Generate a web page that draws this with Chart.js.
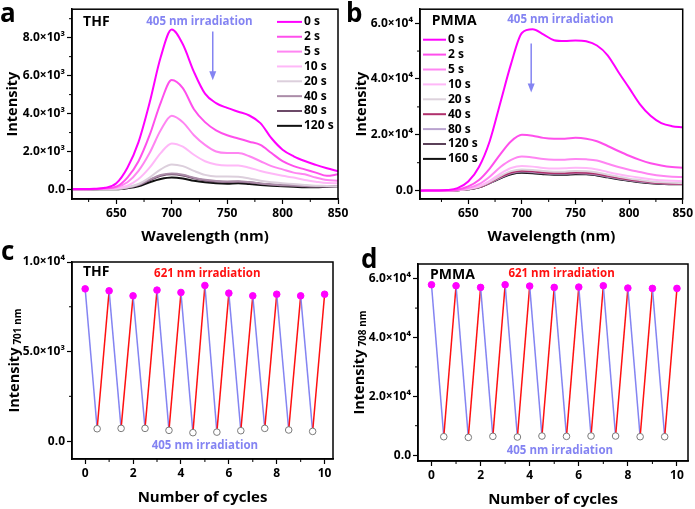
<!DOCTYPE html>
<html>
<head>
<meta charset="utf-8">
<script src="https://cdn.jsdelivr.net/npm/chart.js@4.4.1/dist/chart.umd.min.js"></script>
<style>
  body { margin: 0; width: 695px; height: 509px; background: #fff; position: relative; overflow: hidden; }
  .box { position: absolute; }
  .tag { position: absolute; font: bold 26px 'Open Sans', sans-serif; line-height: 26px; color: #000; }
</style>
</head>
<body>
<div class="box" style="left:0;top:0;width:360px;height:250px"><canvas id="chartA"></canvas></div>
<div class="box" style="left:345px;top:0;width:350px;height:250px"><canvas id="chartB"></canvas></div>
<div class="box" style="left:0;top:250px;width:360px;height:259px"><canvas id="chartC"></canvas></div>
<div class="box" style="left:345px;top:250px;width:350px;height:259px"><canvas id="chartD"></canvas></div>
<div class="tag" style="left:0;top:-1px">a</div>
<div class="tag" style="left:346px;top:-1px">b</div>
<div class="tag" style="left:1px;top:237px">c</div>
<div class="tag" style="left:361px;top:245px">d</div>
<script>
// ---- data ----
const waveA = [610,620,630,640,650,660,670,680,690,700,710,720,730,740,750,760,770,780,790,800,810,820,830,840,850];
const timesA = ['0 s','2 s','5 s','10 s','20 s','40 s','80 s','120 s'];
const a0s   = [30,30,40,90,330,1150,2500,4570,6970,8430,7650,6200,5050,4550,4300,4100,3900,3500,2700,2100,1750,1500,1300,1120,960];
const a2s   = [20,20,30,60,150,630,1490,2860,4570,5770,5340,4230,3550,3120,2860,2690,2520,2350,1920,1490,1230,1060,890,720,800];
const a5s   = [20,20,30,50,120,380,980,1920,3120,3890,3550,2860,2350,2000,1920,1920,1750,1490,1230,1060,890,800,630,500,460];
const a10s  = [20,20,25,40,70,200,550,1150,1920,2430,2260,1830,1490,1320,1270,1270,1150,980,840,720,630,500,410,340,330];
const a20s  = [20,20,20,30,35,120,290,630,1060,1320,1230,980,770,690,690,670,580,460,380,330,290,240,200,190,170];
const a40s  = [20,20,20,25,30,100,250,520,760,840,780,620,510,450,420,430,390,320,270,230,210,180,170,170,180];
const a80s  = [20,20,20,25,25,90,230,490,720,800,740,590,480,420,400,410,370,310,260,220,200,170,160,165,175];
const a120s = [20,20,20,20,20,70,170,380,550,630,580,460,380,330,310,330,290,240,200,170,150,120,120,150,170];

const waveB = [605,620,630,640,650,660,670,680,690,700,710,720,730,740,750,760,770,780,790,800,810,820,830,840,850];
const timesB = ['0 s','2 s','5 s','10 s','20 s','40 s','80 s','120 s','160 s'];
const b0s   = [0,50,200,900,3240,8450,17700,31600,45500,56500,57800,56000,53900,53600,53800,53500,52000,48500,42500,36800,31000,26800,24200,23100,22700];
const b2s   = [0,20,80,350,1500,3800,7900,13100,17700,20000,19700,18900,18600,18600,18900,18600,17700,16000,14200,12500,11000,9800,9000,8450,8200];
const b5s   = [0,10,50,250,900,2300,5000,8450,11000,12200,11900,11300,11100,11100,11300,11200,10800,9600,8450,7500,6700,5900,5300,5000,4900];
const b10s  = [0,10,40,200,700,1600,3500,6100,8100,8800,8600,8100,7900,8000,8200,8100,7600,6700,5900,5200,4600,4100,3700,3500,3400];
const b20s  = [0,10,30,170,600,1400,3100,5300,7000,7600,7400,7000,6800,6800,7000,6900,6500,5700,5000,4300,3800,3300,3000,2800,2700];
const b40s  = [0,10,30,160,560,1300,2900,4900,6500,7100,6900,6500,6300,6300,6500,6400,6000,5300,4600,4000,3500,3000,2700,2500,2500];
const b80s  = [0,10,30,150,520,1250,2800,4700,6300,6900,6700,6300,6100,6100,6300,6200,5800,5100,4400,3800,3300,2900,2600,2400,2400];
const b120s = [0,10,30,140,490,1200,2750,4550,6100,6650,6500,6100,5900,5900,6100,6000,5600,4900,4200,3650,3150,2750,2500,2350,2350];
const b160s = [0,10,30,130,460,1160,2700,4400,5900,6400,6250,5900,5700,5700,5900,5900,5450,4750,4050,3500,3000,2650,2450,2300,2300];

const cycleIdx = [0,1,2,3,4,5,6,7,8,9,10];
const peaksC   = [8500,8390,8110,8430,8300,8690,8260,8110,8200,8110,8200];
const valleysC = [690,710,710,600,470,500,580,710,620,540];
const peaksD   = [57950,57600,57040,57950,57490,57040,57150,57600,56810,56700,56700];
const valleysD = [6260,6030,6380,6150,6490,6380,6490,6490,6260,6260];

const xTicksSpec = [650,700,750,800,850];
const xMinorSpec = [625,675,725,775,825];
const xTicksCyc = [0,2,4,6,8,10];
const xMinorCyc = [1,3,5,7,9];
const yTicksA = [0,2000,4000,6000,8000];
const yLabelsA = ['0.0','2.0×10³','4.0×10³','6.0×10³','8.0×10³'];
const yTicksB = [0,20000,40000,60000];
const yLabelsB = ['0.0','2.0×10⁴','4.0×10⁴','6.0×10⁴'];
const yTicksC = [0,5000,10000];
const yLabelsC = ['0.0','5.0×10³','1.0×10⁴'];

const colorsA = ['#ff00ff','#ff4fec','#ff85f2','#ffb8f8','#dccfdc','#ab8ca8','#6c4a68','#111111'];
const colorsB = ['#ff00ff','#ff4fec','#ff85f2','#ffb8f8','#ddd2dc','#b0306c','#b9a3cf','#5a4058','#111111'];

// ---- styling ----
const FONT = "'Open Sans', sans-serif";
const LILAC = '#8484f2';
const RED = '#ff1010';
const MAGENTA = '#ff00ff';

function decor(cfg) {
  return {
    id: 'decor',
    afterDraw(chart) {
      const { ctx, chartArea: a, scales: { x, y } } = chart;
      ctx.save();
      ctx.strokeStyle = '#000';
      ctx.lineWidth = 1.5;
      ctx.strokeRect(a.left, a.top, a.right - a.left, a.bottom - a.top);
      ctx.lineWidth = 1;
      cfg.minorX.forEach(v => {
        const px = x.getPixelForValue(v);
        ctx.beginPath(); ctx.moveTo(px, a.bottom); ctx.lineTo(px, a.bottom + 3); ctx.stroke();
      });
      cfg.minorY.forEach(v => {
        const py = y.getPixelForValue(v);
        ctx.beginPath(); ctx.moveTo(a.left, py); ctx.lineTo(a.left - 3, py); ctx.stroke();
      });

      ctx.fillStyle = '#000';
      ctx.textBaseline = 'middle';
      ctx.textAlign = 'center';
      ctx.font = `bold 15px ${FONT}`;
      ctx.fillText(cfg.xTitle, (a.left + a.right) / 2, a.bottom + cfg.xTitleGap);

      ctx.save();
      ctx.translate(cfg.yTitleX, (a.top + a.bottom) / 2);
      ctx.rotate(-Math.PI / 2);
      ctx.font = `bold 14.5px ${FONT}`;
      const w1 = ctx.measureText('Intensity').width;
      ctx.font = `bold 10px ${FONT}`;
      const w2 = cfg.ySub ? ctx.measureText(cfg.ySub).width + 3 : 0;
      const x0 = -(w1 + w2) / 2;
      ctx.textAlign = 'left';
      ctx.font = `bold 14.5px ${FONT}`;
      ctx.fillText('Intensity', x0, 0);
      if (cfg.ySub) {
        ctx.font = `bold 10px ${FONT}`;
        ctx.fillText(cfg.ySub, x0 + w1 + 3, 3);
      }
      ctx.restore();

      cfg.notes.forEach(n => {
        ctx.font = `bold ${n.size}px ${FONT}`;
        ctx.fillStyle = n.color;
        ctx.textAlign = n.align;
        ctx.fillText(n.text, x.getPixelForValue(n.x), y.getPixelForValue(n.y));
      });

      if (cfg.arrow) {
        const px = x.getPixelForValue(cfg.arrow.x);
        const p0 = y.getPixelForValue(cfg.arrow.y0);
        const p1 = y.getPixelForValue(cfg.arrow.y1);
        ctx.strokeStyle = LILAC; ctx.fillStyle = LILAC; ctx.lineWidth = 1.5;
        ctx.beginPath(); ctx.moveTo(px, p0); ctx.lineTo(px, p1 - 7); ctx.stroke();
        ctx.beginPath(); ctx.moveTo(px - 3.5, p1 - 9); ctx.lineTo(px + 3.5, p1 - 9); ctx.lineTo(px, p1); ctx.closePath(); ctx.fill();
      }

      if (cfg.legend) {
        const L = cfg.legend;
        const lx0 = L.fromRight ? a.right - L.x0 : a.left + L.x0;
        chart.data.datasets.forEach((ds, i) => {
          const ly = a.top + L.y0 + i * L.dy;
          ctx.strokeStyle = ds.borderColor; ctx.lineWidth = 2;
          ctx.beginPath(); ctx.moveTo(lx0, ly); ctx.lineTo(lx0 + L.len, ly); ctx.stroke();
          ctx.fillStyle = '#000'; ctx.textAlign = 'left';
          ctx.font = `bold 12px ${FONT}`;
          ctx.fillText(ds.label, lx0 + L.len + 2, ly);
        });
      }
      ctx.restore();
    }
  };
}

function axes(o) {
  const tickFont = { family: FONT, weight: 'bold', size: 12 };
  return {
    x: {
      type: 'linear', min: o.xMin, max: o.xMax,
      afterBuildTicks: s => { s.ticks = o.xTicks.map(v => ({ value: v })); },
      ticks: { font: tickFont, color: '#000', padding: 2, maxRotation: 0, autoSkip: false, callback: v => String(v) },
      grid: { drawOnChartArea: false, drawTicks: true, tickLength: 5, tickColor: '#000', tickWidth: 1.2 },
      border: { color: '#000', width: 1.5 },
      afterFit: s => { s.height = o.xH; }
    },
    y: {
      type: 'linear', min: o.yMin, max: o.yMax,
      afterBuildTicks: s => { s.ticks = o.yTicks.map(v => ({ value: v })); },
      ticks: { font: tickFont, color: '#000', padding: 2, autoSkip: false, callback: v => o.yLabels[o.yTicks.indexOf(v)] },
      grid: { drawOnChartArea: false, drawTicks: true, tickLength: 5, tickColor: '#000', tickWidth: 1.2 },
      border: { color: '#000', width: 1.5 },
      afterFit: s => { s.width = o.yW; }
    }
  };
}

function spectrum(label, wave, vals, color) {
  return {
    label, borderColor: color, borderWidth: 2, pointRadius: 0,
    cubicInterpolationMode: 'monotone',
    data: wave.map((w, i) => ({ x: w, y: vals[i] }))
  };
}

function cycleSeries(peaks, valleys) {
  const pts = [];
  cycleIdx.forEach(i => {
    pts.push({ x: i, y: peaks[i] });
    if (i < valleys.length) pts.push({ x: i + 0.5, y: valleys[i] });
  });
  return {
    label: 'cycles', data: pts, borderWidth: 1.5, pointRadius: 3.3, pointBorderWidth: 1,
    segment: { borderColor: c => Number.isInteger(c.p0.parsed.x) ? LILAC : RED },
    pointBackgroundColor: c => Number.isInteger(c.raw.x) ? MAGENTA : '#ffffff',
    pointBorderColor: c => Number.isInteger(c.raw.x) ? MAGENTA : '#7a7a7a'
  };
}

const base = { responsive: true, maintainAspectRatio: false, animation: false, plugins: { legend: { display: false }, tooltip: { enabled: false } } };

// (a) THF spectra
const seriesA = [a0s, a2s, a5s, a10s, a20s, a40s, a80s, a120s];
new Chart(document.getElementById('chartA'), {
  type: 'line',
  data: { datasets: seriesA.map((s, i) => spectrum(timesA[i], waveA, s, colorsA[i])) },
  options: { ...base, layout: { padding: { top: 4, right: 22, left: 0, bottom: 0 } },
    scales: axes({ xMin: 610, xMax: 850, xTicks: xTicksSpec, xH: 51, yMin: -500, yMax: 9500, yTicks: yTicksA, yLabels: yLabelsA, yW: 72 }) },
  plugins: [decor({
    minorX: xMinorSpec, minorY: [1000,3000,5000,7000,9000],
    xTitle: 'Wavelength (nm)', xTitleGap: 38, yTitleX: 13,
    notes: [
      { text: 'THF', x: 620, y: 8840, color: '#000', size: 14, align: 'left' },
      { text: '405 nm irradiation', x: 725, y: 8840, color: LILAC, size: 11.5, align: 'center' }
    ],
    arrow: { x: 737, y0: 8330, y1: 5760 },
    legend: { fromRight: true, x0: 61, len: 25, y0: 12.7, dy: 14.85 }
  })]
});

// (b) PMMA spectra
const seriesB = [b0s, b2s, b5s, b10s, b20s, b40s, b80s, b120s, b160s];
new Chart(document.getElementById('chartB'), {
  type: 'line',
  data: { datasets: seriesB.map((s, i) => spectrum(timesB[i], waveB, s, colorsB[i])) },
  options: { ...base, layout: { padding: { top: 4, right: 12, left: 0, bottom: 0 } },
    scales: axes({ xMin: 605, xMax: 850, xTicks: xTicksSpec, xH: 51, yMin: -3000, yMax: 65000, yTicks: yTicksB, yLabels: yLabelsB, yW: 75 }) },
  plugins: [decor({
    minorX: xMinorSpec, minorY: [10000,30000,50000],
    xTitle: 'Wavelength (nm)', xTitleGap: 38, yTitleX: 17,
    notes: [
      { text: 'PMMA', x: 616, y: 60700, color: '#000', size: 14, align: 'left' },
      { text: '405 nm irradiation', x: 736, y: 61400, color: LILAC, size: 11.5, align: 'center' }
    ],
    arrow: { x: 708.7, y0: 52700, y1: 35200 },
    legend: { fromRight: false, x0: 3, len: 23, y0: 30.5, dy: 14.9 }
  })]
});

// (c) THF cycles
new Chart(document.getElementById('chartC'), {
  type: 'line',
  data: { datasets: [cycleSeries(peaksC, valleysC)] },
  options: { ...base, layout: { padding: { top: 12, right: 27, left: 0, bottom: 0 } },
    scales: axes({ xMin: -0.55, xMax: 10.35, xTicks: xTicksCyc, xH: 50, yMin: -1000, yMax: 10000, yTicks: yTicksC, yLabels: yLabelsC, yW: 72 }) },
  plugins: [decor({
    minorX: xMinorCyc, minorY: [2500,7500],
    xTitle: 'Number of cycles', xTitleGap: 39, yTitleX: 15, ySub: '701 nm',
    notes: [
      { text: 'THF', x: -0.09, y: 9430, color: '#000', size: 14, align: 'left' },
      { text: '621 nm irradiation', x: 5.1, y: 9320, color: RED, size: 11.5, align: 'center' },
      { text: '405 nm irradiation', x: 5.0, y: -240, color: LILAC, size: 11.5, align: 'center' }
    ]
  })]
});

// (d) PMMA cycles
new Chart(document.getElementById('chartD'), {
  type: 'line',
  data: { datasets: [cycleSeries(peaksD, valleysD)] },
  options: { ...base, layout: { padding: { top: 14, right: 7, left: 0, bottom: 0 } },
    scales: axes({ xMin: -0.55, xMax: 10.45, xTicks: xTicksCyc, xH: 48, yMin: -2000, yMax: 65000, yTicks: yTicksB, yLabels: yLabelsB, yW: 73 }) },
  plugins: [decor({
    minorX: xMinorCyc, minorY: [10000,30000,50000],
    xTitle: 'Number of cycles', xTitleGap: 39, yTitleX: 15, ySub: '708 nm',
    notes: [
      { text: 'PMMA', x: -0.06, y: 61400, color: '#000', size: 14, align: 'left' },
      { text: '621 nm irradiation', x: 5.3, y: 61800, color: RED, size: 11.5, align: 'center' },
      { text: '405 nm irradiation', x: 5.23, y: 1470, color: LILAC, size: 11.5, align: 'center' }
    ]
  })]
});
</script>
</body>
</html>
